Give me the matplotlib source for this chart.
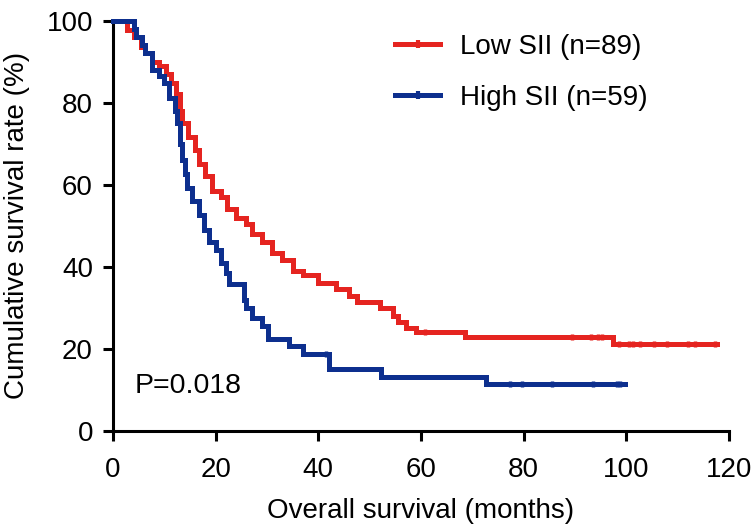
import matplotlib

matplotlib.use("Agg")
import matplotlib.pyplot as plt
from matplotlib.lines import Line2D

# Kaplan-Meier steps (time in months, survival in %)
low_t = [0, 2.7, 4.0, 5.5, 6.2, 7.6, 9.0, 10.3, 11.3, 12.3, 13.0, 13.5, 14.7,
         16.0, 16.8, 18.0, 19.3, 21.0, 22.2, 24.0, 26.0, 27.0, 29.0, 31.0,
         33.0, 35.0, 37.0, 40.0, 43.5, 46.0, 47.5, 52.0, 54.5, 55.5, 57.0,
         59.0, 68.5, 97.5, 117.6]
low_s = [100, 97.8, 96.0, 93.5, 92.0, 90.0, 89.0, 87.0, 84.7, 82.0, 78.0,
         75.0, 71.6, 68.4, 65.0, 62.0, 58.5, 57.0, 54.0, 52.0, 50.5, 48.0,
         46.0, 43.4, 41.7, 39.0, 38.0, 36.0, 34.5, 33.0, 31.5, 30.0, 28.0,
         26.5, 25.0, 24.0, 22.8, 21.1, 21.1]
low_cens_t = [60.7, 89.4, 93.2, 94.4, 95.3, 98.5, 100.5, 101.3, 102.7, 105.3,
              108.0, 112.0, 113.4, 117.3]
low_cens_s = [24.0, 22.8, 22.8, 22.8, 22.8, 21.1, 21.1, 21.1, 21.1, 21.1,
              21.1, 21.1, 21.1, 21.1]

high_t = [0, 4.0, 4.5, 5.7, 6.2, 7.6, 9.0, 10.0, 11.0, 12.0, 12.5, 13.0,
          13.5, 14.0, 14.5, 15.4, 16.8, 17.8, 18.7, 20.0, 21.0, 22.0, 22.6,
          25.5, 26.0, 27.0, 29.0, 30.2, 34.3, 37.0, 42.0, 52.3, 72.6, 99.8]
high_s = [100, 98.0, 96.0, 94.0, 92.0, 88.0, 86.6, 84.7, 81.0, 78.0, 75.0,
          70.0, 66.0, 62.7, 59.3, 56.0, 52.5, 49.0, 46.0, 44.0, 41.0, 38.6,
          35.7, 32.0, 30.0, 27.6, 25.5, 22.3, 20.6, 18.7, 15.0, 13.1, 11.4,
          11.4]
high_cens_t = [41.5, 77.3, 79.6, 85.5, 93.5, 98.1, 98.7]
high_cens_s = [18.7, 11.4, 11.4, 11.4, 11.4, 11.4, 11.4]

labels = ["Low SII (n=89)", "High SII (n=59)"]
red = "#e52420"
blue = "#0d2f8e"

plt.rcParams["font.family"] = ["Liberation Sans", "DejaVu Sans"]
plt.rcParams["font.size"] = 20

fig = plt.figure(figsize=(7.52, 5.27), dpi=100)
ax = fig.add_axes([0.1503, 0.1822, 0.8191, 0.7789])

lw = 3.6
cens_kw = dict(ls="none", marker="|", ms=5, mew=2.5)
ax.step(low_t, low_s, where="post", color=red, lw=lw, clip_on=False,
        solid_joinstyle="miter", zorder=3)
ax.step(high_t, high_s, where="post", color=blue, lw=lw, clip_on=False,
        solid_joinstyle="miter", zorder=4)
ax.plot(low_cens_t, low_cens_s, color=red, zorder=3, **cens_kw)
ax.plot(high_cens_t, high_cens_s, color=blue, zorder=4, **cens_kw)

ax.set_xlim(0, 120)
ax.set_ylim(0, 100)
ax.set_xticks(range(0, 121, 20))
ax.set_yticks(range(0, 101, 20))
for side in ("top", "right"):
    ax.spines[side].set_visible(False)
for side in ("left", "bottom"):
    ax.spines[side].set_linewidth(2.2)
ax.tick_params(direction="out", length=7.5, width=2.2, pad=7, labelsize=20)
ax.tick_params(axis="x", pad=11)

ax.set_xlabel("Overall survival (months)", labelpad=11)
ax.set_ylabel("Cumulative survival rate (%)", labelpad=12)

ax.text(4.3, 11, "P=0.018", ha="left", va="center", fontsize=20.5)

handles = [
    Line2D([], [], color=red, lw=lw, marker="|", ms=6, mew=3),
    Line2D([], [], color=blue, lw=lw, marker="|", ms=6, mew=3),
]
ax.legend(handles, labels, loc="upper left", bbox_to_anchor=(0.458, 0.967),
          frameon=False, handlelength=1.62, handletextpad=0.72,
          labelspacing=0.9, borderpad=0, borderaxespad=0, numpoints=1,
          fontsize=20)

fig.savefig("out.png", dpi=100)
